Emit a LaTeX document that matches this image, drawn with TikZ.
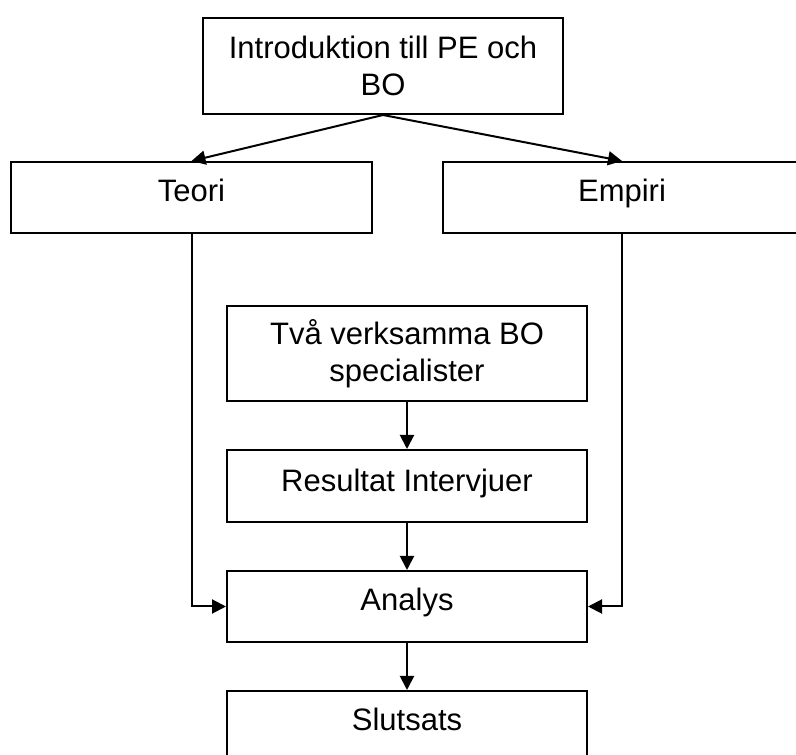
\documentclass[tikz,border=0pt]{standalone}
\usepackage{fontspec}
\setmainfont{Liberation Sans}
\usetikzlibrary{arrows.meta}

\tikzset{
  box/.style={draw, line width=2pt, minimum width=360pt, inner ysep=0pt,
    font=\fontsize{31}{37}\selectfont},
  oneline/.style={text height=40pt, text depth=31pt},
  twoline/.style={align=center},
  arr/.style={line width=2pt, -{Triangle[length=14pt,width=14pt]}},
}

\begin{document}
\begin{tikzpicture}[x=1pt,y=1pt]
\useasboundingbox (0,0) rectangle (796,755);
\clip (0,0) rectangle (796,755);

\node[box,twoline,minimum height=96pt] (intro) at (383,689) {Introduktion till PE och\\BO};
\node[box,oneline,minimum width=361pt] (teori) at (191.5,557.5) {Teori};
\node[box,oneline,minimum width=358pt] (empiri) at (622,557.5) {Empiri};

\node[box,twoline,minimum height=95pt] (tva) at (407,401.5) {Två verksamma BO\\specialister};
\node[box,oneline,text height=42pt,text depth=30pt] (resultat) at (407,269) {Resultat Intervjuer};
\node[box,oneline] (analys) at (407,148.5) {Analys};
\node[box,oneline] (slutsats) at (407,28.5) {Slutsats};

\draw[arr] (intro.south) -- (teori.north);
\draw[arr] (intro.south) -- (empiri.north);

\draw[arr] (tva.south) -- (resultat.north);
\draw[arr] (resultat.south) -- (analys.north);
\draw[arr] (analys.south) -- (slutsats.north);

\draw[arr] (teori.south) |- (analys.west);
\draw[arr] (empiri.south) |- (analys.east);
\end{tikzpicture}
\end{document}
